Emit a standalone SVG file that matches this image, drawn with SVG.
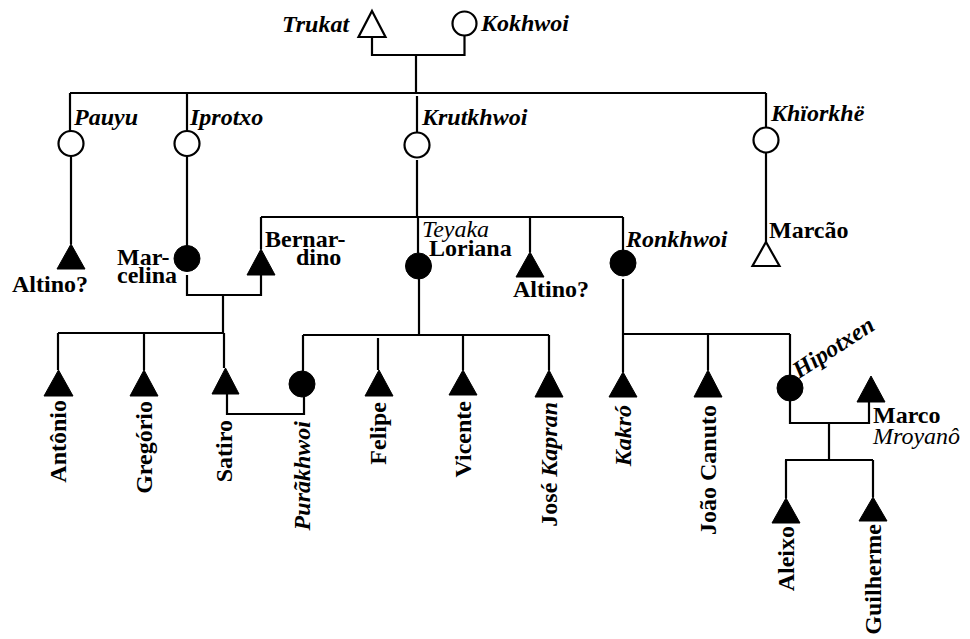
<svg xmlns="http://www.w3.org/2000/svg" width="970" height="639" viewBox="0 0 970 639">
<style>
  .ln{fill:none;stroke:#000;stroke-width:2.2;stroke-linejoin:miter}
  .open{fill:#fff;stroke:#000;stroke-width:2.2}
  .full{fill:#000;stroke:#000;stroke-width:1}
  text{font-family:"Liberation Serif","Times New Roman",serif;font-size:24px;font-weight:bold;fill:#000}
  .it{font-style:italic}
  .itn{font-style:italic;font-weight:normal}
</style>
<rect x="0" y="0" width="970" height="639" fill="#fff"/>
<g id="connectors">
  <path class="ln" d="M372,37 V55 H464.5 V36"/>
  <path class="ln" d="M416,55 V93"/>
  <path class="ln" d="M70,93 H766"/>
  <path class="ln" d="M70,93 V131"/>
  <path class="ln" d="M187,93 V131"/>
  <path class="ln" d="M417,96 V132.5"/>
  <path class="ln" d="M766,93 V127.5"/>
  <path class="ln" d="M71,156 V244"/>
  <path class="ln" d="M187,156 V246"/>
  <path class="ln" d="M417,160 V217"/>
  <path class="ln" d="M261,217 H623"/>
  <path class="ln" d="M261,217 V249"/>
  <path class="ln" d="M418,217 V253"/>
  <path class="ln" d="M530,217 V252"/>
  <path class="ln" d="M623,217 V250"/>
  <path class="ln" d="M766,153 V242"/>
  <path class="ln" d="M187,275 V295 H261 V275"/>
  <path class="ln" d="M223,295 V333"/>
  <path class="ln" d="M58,333 H224"/>
  <path class="ln" d="M58,333 V370"/>
  <path class="ln" d="M144,333 V370"/>
  <path class="ln" d="M224,333 V368"/>
  <path class="ln" d="M227,394 V414 H304 V397"/>
  <path class="ln" d="M419,279 V335"/>
  <path class="ln" d="M303,335 H549"/>
  <path class="ln" d="M303,335 V371"/>
  <path class="ln" d="M378,338 V370"/>
  <path class="ln" d="M463,335 V370"/>
  <path class="ln" d="M549,335 V370"/>
  <path class="ln" d="M623,279 V334"/>
  <path class="ln" d="M623,334 H790"/>
  <path class="ln" d="M623,334 V372"/>
  <path class="ln" d="M708,334 V370"/>
  <path class="ln" d="M790,334 V375"/>
  <path class="ln" d="M790,401 V423 H869 V402"/>
  <path class="ln" d="M829,423 V460"/>
  <path class="ln" d="M785,460 H873"/>
  <path class="ln" d="M786,460 V498"/>
  <path class="ln" d="M873,460 V497"/>
</g>
<g id="trukat">
  <polygon class="open" points="372,11 385.5,37 358.5,37"/>
  <text class="it" x="282" y="32">Trukat</text>
</g>
<g id="kokhwoi">
  <circle class="open" cx="464.5" cy="23.5" r="12"/>
  <text class="it" x="481" y="31">Kokhwoi</text>
</g>
<g id="pauyu">
  <circle class="open" cx="71" cy="143.5" r="12.5"/>
  <text class="it" x="74" y="125">Pauyu</text>
</g>
<g id="iprotxo">
  <circle class="open" cx="187" cy="143.5" r="12.5"/>
  <text class="it" x="190" y="125">Iprotxo</text>
</g>
<g id="krutkhwoi">
  <circle class="open" cx="417" cy="145" r="12.5"/>
  <text class="it" x="422" y="125">Krutkhwoi</text>
</g>
<g id="khiorkhe">
  <circle class="open" cx="766" cy="140" r="12.5"/>
  <text class="it" x="771" y="121">Khïorkhë</text>
</g>
<g id="altino1">
  <polygon class="full" points="71,244 85,269 57,269"/>
  <text x="12" y="292">Altino?</text>
</g>
<g id="marcelina">
  <circle class="full" cx="187" cy="258.5" r="13"/>
  <text><tspan x="117" y="265">Mar-</tspan><tspan x="117" y="283">celina</tspan></text>
</g>
<g id="bernardino">
  <polygon class="full" points="261,249 275,275 247,275"/>
  <text><tspan x="265" y="247">Bernar-</tspan><tspan x="296" y="265">dino</tspan></text>
</g>
<g id="teyaka-loriana">
  <circle class="full" cx="418.5" cy="266" r="13"/>
  <text><tspan class="itn" x="422" y="237">Teyaka</tspan><tspan x="429" y="256">Loriana</tspan></text>
</g>
<g id="altino2">
  <polygon class="full" points="530,252 544,277 516,277"/>
  <text x="513" y="297">Altino?</text>
</g>
<g id="ronkhwoi">
  <circle class="full" cx="623" cy="263" r="13"/>
  <text class="it" x="626" y="247">Ronkhwoi</text>
</g>
<g id="marcao">
  <polygon class="open" points="766,242 779.5,266 752.5,266"/>
  <text x="769" y="238">Marcão</text>
</g>
<g id="antonio">
  <polygon class="full" points="58.5,370 73,396 44,396"/>
  <text transform="translate(66,400) rotate(-90)" text-anchor="end">Antônio</text>
</g>
<g id="gregorio">
  <polygon class="full" points="144,370 158,396 130,396"/>
  <text transform="translate(152,401) rotate(-90)" text-anchor="end">Gregório</text>
</g>
<g id="satiro">
  <polygon class="full" points="225.5,368 239,394 212,394"/>
  <text transform="translate(232,420) rotate(-90)" text-anchor="end">Satiro</text>
</g>
<g id="purakhwoi">
  <circle class="full" cx="302" cy="384" r="13"/>
  <text class="it" transform="translate(310,421) rotate(-90)" text-anchor="end">Purãkhwoi</text>
</g>
<g id="felipe">
  <polygon class="full" points="379,370 393,396 365,396"/>
  <text transform="translate(386,402) rotate(-90)" text-anchor="end">Felipe</text>
</g>
<g id="vicente">
  <polygon class="full" points="463,370 477,395 449,395"/>
  <text transform="translate(471,401) rotate(-90)" text-anchor="end">Vicente</text>
</g>
<g id="jose-kapran">
  <polygon class="full" points="549,370 563,397 535,397"/>
  <text transform="translate(557,402) rotate(-90)" text-anchor="end">José <tspan class="it">Kapran</tspan></text>
</g>
<g id="kakro">
  <polygon class="full" points="623,372 637,397 609,397"/>
  <text class="it" transform="translate(631,405) rotate(-90)" text-anchor="end">Kakró</text>
</g>
<g id="joao-canuto">
  <polygon class="full" points="708,370 722,397 694,397"/>
  <text transform="translate(716,405) rotate(-90)" text-anchor="end">João Canuto</text>
</g>
<g id="hipotxen">
  <circle class="full" cx="790" cy="388" r="13"/>
  <text class="it" transform="translate(799,379) rotate(-33)">Hipotxen</text>
</g>
<g id="marco-mroyano">
  <polygon class="full" points="871,376 885,402 857,402"/>
  <text><tspan x="873" y="423">Marco</tspan><tspan class="itn" x="873" y="444">Mroyanô</tspan></text>
</g>
<g id="aleixo">
  <polygon class="full" points="786,498 800,523 772,523"/>
  <text transform="translate(794,526) rotate(-90)" text-anchor="end">Aleixo</text>
</g>
<g id="guilherme">
  <polygon class="full" points="873,497 887,521 859,521"/>
  <text transform="translate(881,524) rotate(-90)" text-anchor="end">Guilherme</text>
</g>
</svg>
